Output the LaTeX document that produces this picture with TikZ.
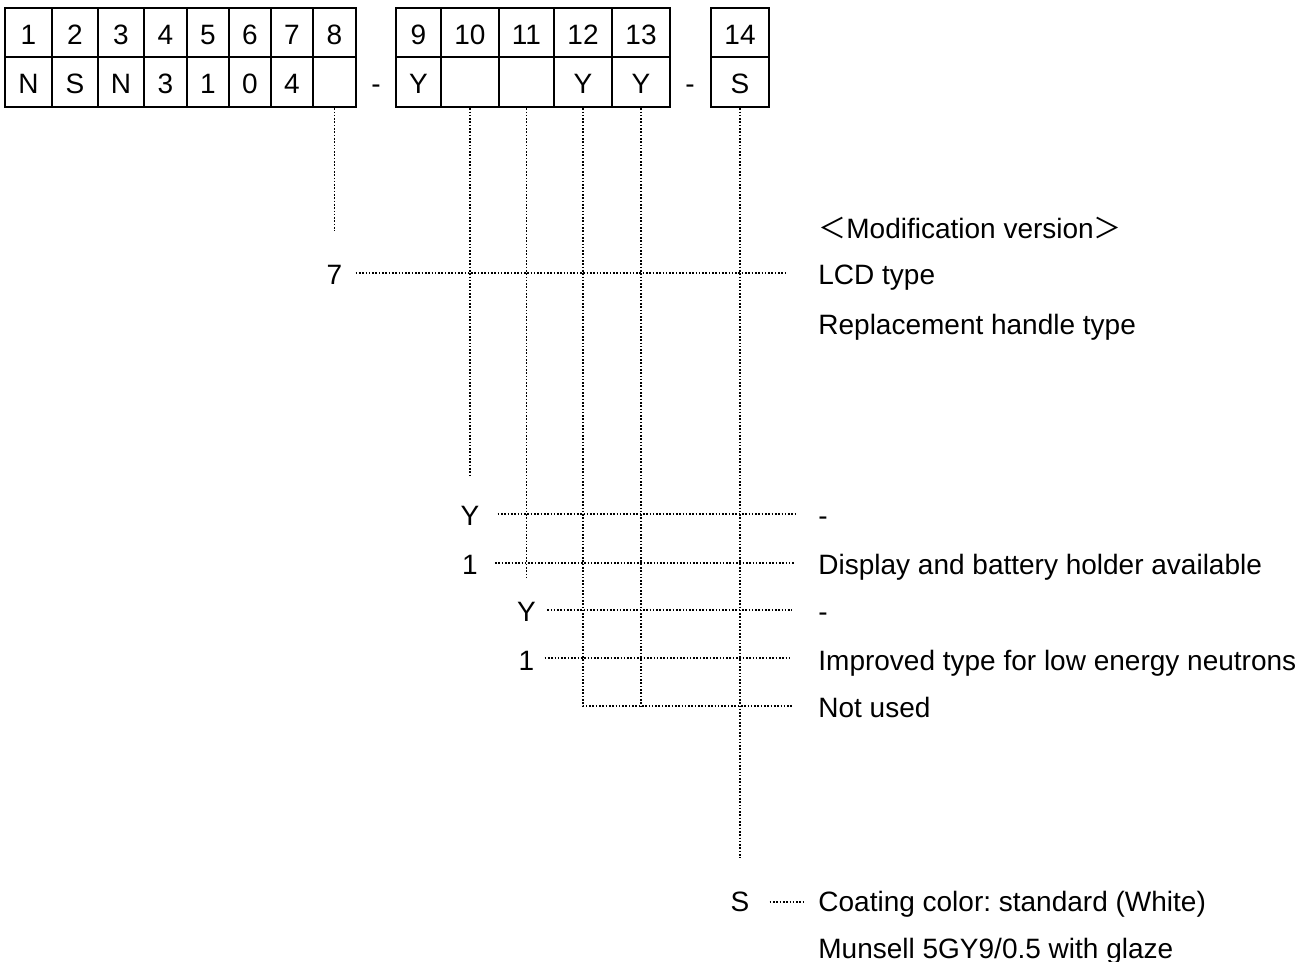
\documentclass[tikz,border=0pt]{standalone}
\usepackage{fontspec}
\setmainfont{Liberation Sans}
\newfontfamily\cjkfont{Noto Sans CJK JP}
\usetikzlibrary{fit}
\frenchspacing
\tikzset{every node/.style={font=\fontsize{14}{16}\selectfont, inner sep=1pt, text height=12pt, text depth=0pt},
  cell/.style={draw, line width=1.3pt, inner sep=0pt},
  desc/.style={anchor=west},
  lead/.style={line width=0.8pt, dash pattern=on 0.8pt off 0.85pt}}

\begin{document}
\begin{tikzpicture}[x=0.5pt,y=-0.5pt]
  \useasboundingbox (0,0) rectangle (1313,962);
  % code boxes
  \foreach \xa/\xb/\num/\val in {5/52/1/N, 52/98/2/S, 98/144/3/N, 144/187/4/3,
      187/229/5/1, 229/271/6/0, 271/313/7/4, 313/356/8/{},
      396/441/9/Y, 441/499/10/{}, 499/554/11/{}, 554/612/12/Y, 612/670/13/Y,
      711/769/14/S} {
    \node[cell, fit={(\xa,8) (\xb,57)}, label={center:\num}] (num\num) {};
    \node[cell, fit={(\xa,57) (\xb,107)}, label={center:\val}] (code\num) {};
  }
  \node (dashA) at (376,82) {-};
  \node (dashB) at (690,82) {-};

  % codes
  \node (lcd7) at (code8 |- 0,273) {7};
  \node (dispY) at (code10 |- 0,514) {Y};
  \node (disp1) at (code10 |- 0,563) {1};
  \node (neutY) at (code11 |- 0,610) {Y};
  \node (neut1) at (code11 |- 0,658) {1};
  \node (coatS) at (code14 |- 0,899) {S};

  % meanings
  \node[desc] (modver) at (816,227) {{\cjkfont ＜}Modification version{\cjkfont ＞}};
  \node[desc] (lcdtype) at (816,273) {LCD type};
  \node[desc] (handle) at (816,323) {Replacement handle type};
  \node[desc] (dispno) at (816,514) {-};
  \node[desc] (dispyes) at (816,563) {Display and battery holder available};
  \node[desc] (neutno) at (816,610) {-};
  \node[desc] (neutyes) at (816,658) {Improved type for low energy neutrons};
  \node[desc] (notused) at (816,706) {Not used};
  \node[desc] (coating) at (816,899) {Coating color: standard (White)};
  \node[desc] (munsell) at (816,946) {Munsell 5GY9/0.5 with glaze};

  % leaders
  \draw[lead, shorten >=14pt] (code8.south) -- (lcd7);
  \draw[lead, shorten >=11pt] (code10.south) -- (dispY);
  \draw[lead, shorten >=8.5pt] (code11.south) -- (neutY);
  \draw[lead, shorten >=12pt] (code12.south) |- (notused.west);
  \draw[lead] (code13.south) -- (code13.south |- notused);
  \draw[lead, shorten >=13.5pt] (code14.south) -- (coatS);

  \draw[lead, shorten <=5.5pt, shorten >=14.5pt] (lcd7.east) -- (lcdtype.west);
  \draw[lead, shorten <=8pt, shorten >=9.5pt] (dispY.east) -- (dispno.west);
  \draw[lead, shorten <=7.5pt, shorten >=10.5pt] (disp1.east) -- (dispyes.west);
  \draw[lead, shorten <=4.5pt, shorten >=12pt] (neutY.east) -- (neutno.west);
  \draw[lead, shorten <=4pt, shorten >=13pt] (neut1.east) -- (neutyes.west);
  \draw[lead, shorten <=9pt, shorten >=6pt] ([yshift=-1.5pt]coatS.east) -- ([yshift=-1.5pt]coating.west);
\end{tikzpicture}
\end{document}
